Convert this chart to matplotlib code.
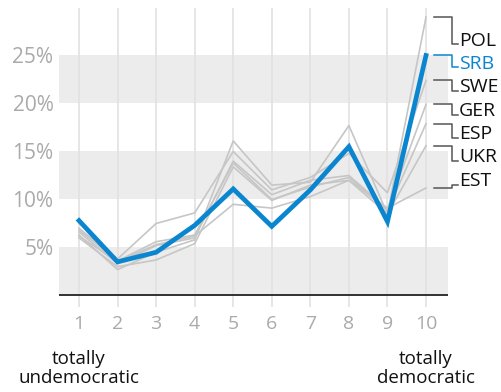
import matplotlib.pyplot as plt
import numpy as np

plt.rcParams['font.family'] = ['Open Sans', 'DejaVu Sans']

# Share of answers per rating (1 = totally undemocratic, 10 = totally democratic)
SCALE = list(range(1, 11))
POL = [6.3, 2.7, 4.5, 5.8, 16.1, 11.5, 11.8, 17.7, 8.5, 29.0]
SWE = [7.0, 3.8, 7.5, 8.6, 15.0, 11.0, 12.3, 14.8, 10.7, 22.4]
GER = [6.6, 3.3, 5.2, 6.0, 14.0, 10.5, 12.0, 12.5, 9.0, 19.9]
ESP = [6.8, 3.6, 5.6, 6.3, 13.8, 10.0, 11.3, 12.3, 8.8, 17.9]
UKR = [6.0, 3.0, 3.7, 5.4, 13.4, 9.9, 11.5, 12.0, 8.5, 15.6]
EST = [6.2, 3.5, 5.3, 6.2, 9.5, 9.1, 10.3, 12.0, 9.1, 11.2]
SRB = [7.8, 3.5, 4.5, 7.3, 11.1, 7.2, 11.0, 15.5, 7.7, 25.0]

LABELS = ['POL', 'SRB', 'SWE', 'GER', 'ESP', 'UKR', 'EST']
LABEL_Y = [26.4, 24.0, 21.6, 19.1, 16.7, 14.3, 11.8]
YTICKS = [5, 10, 15, 20, 25]

BLUE = '#0a86d0'
GREY = '#c6c6c6'

fig = plt.figure(figsize=(5.02, 3.92), dpi=100)
ax = fig.add_axes([59 / 502, (392 - 307) / 392, 389 / 502, (307 - 7.5) / 392])

# background bands
for lo in (0, 10, 20):
    ax.axhspan(lo, lo + 5, color='#ececec', lw=0, zorder=0)
for x in SCALE:
    ax.axvline(x, color='#e2e2e2', lw=1.2, zorder=1)
ax.axhline(0, color='#222222', lw=1.3, zorder=2)

series = {'POL': POL, 'SRB': SRB, 'SWE': SWE, 'GER': GER,
          'ESP': ESP, 'UKR': UKR, 'EST': EST}
for name, vals in series.items():
    if name == 'SRB':
        continue
    ax.plot(SCALE, vals, color=GREY, lw=1.2, zorder=3)
ax.plot(SCALE, SRB, color=BLUE, lw=3.4, zorder=5, solid_joinstyle='miter')

# right-hand labels with step connectors
for name, ly in zip(LABELS, LABEL_Y):
    end = series[name][-1]
    col = BLUE if name == 'SRB' else '#555555'
    ax.plot([10.2, 10.67, 10.67, 10.82], [end, end, ly - 0.25, ly - 0.25],
            color=col, lw=1.1, clip_on=False, zorder=4)
    ax.text(10.86, ly + 0.1, name, color=BLUE if name == 'SRB' else '#111111',
            fontsize=14, va='center', ha='left', clip_on=False)

ax.set_xlim(1 - 20 / 38.56, 10 + 22 / 38.56)
ax.set_ylim(-1.2, 30)
ax.set_xticks(SCALE)
ax.set_xticklabels([str(s) for s in SCALE], color='#aaaaaa', fontsize=14)
ax.set_yticks(YTICKS)
ax.set_yticklabels([f'{v}%' for v in YTICKS], color='#aaaaaa', fontsize=15)
ax.tick_params(length=0)
ax.tick_params(axis='x', pad=6)
ax.tick_params(axis='y', pad=4)
for s in ax.spines.values():
    s.set_visible(False)

ax.text(1, -7.6, 'totally\nundemocratic', ha='center', va='center',
        fontsize=13.5, color='#111111', linespacing=1.05, clip_on=False)
ax.text(10, -7.6, 'totally\ndemocratic', ha='center', va='center',
        fontsize=13.5, color='#111111', linespacing=1.05, clip_on=False)

fig.savefig('out.png', dpi=100)
